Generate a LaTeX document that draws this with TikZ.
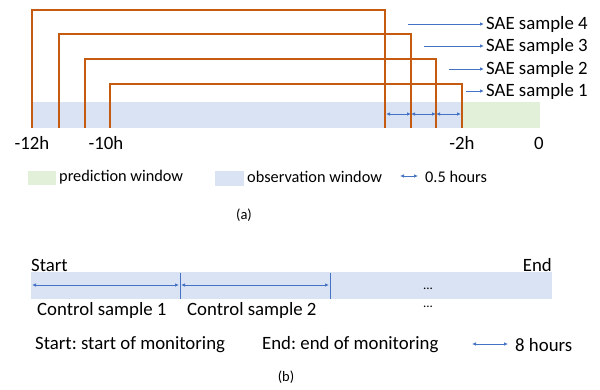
\documentclass[tikz,border=0pt]{standalone}
\usepackage{fontspec}
\setmainfont{Carlito}
\usetikzlibrary{arrows.meta}
\definecolor{orng}{HTML}{C55A11}
\definecolor{obsblue}{HTML}{DAE3F3}
\definecolor{predgreen}{HTML}{E2F0D9}
\definecolor{arrblue}{HTML}{4472C4}
\frenchspacing
\begin{document}
\begin{tikzpicture}[x=1pt,y=-1pt,
  bracket/.style={draw=orng,line width=1.1pt},
  mytip/.tip={Latex[length=4pt,width=3.5pt]},
  conn/.style={draw=arrblue,line width=0.8pt,-mytip},
  dbl/.style={draw=arrblue,line width=0.8pt,mytip-mytip},
  divline/.style={draw=arrblue,line width=0.9pt},
  lbl/.style={font=\fontsize{18.8}{20}\selectfont,inner sep=0pt},
  leg/.style={font=\fontsize{16.3}{19}\selectfont,inner sep=0pt},
  captxt/.style={font=\fontsize{14.5}{16}\selectfont,inner sep=0pt},
  dots/.style={font=\fontsize{13}{15}\selectfont,inner sep=0pt,anchor=base}
]
\useasboundingbox (0,0) rectangle (600,389);
% ---------- (a) ----------
\fill[obsblue] (32,102) rectangle (462,128);
\fill[predgreen] (462,102) rectangle (540,128);
% brackets
\coordinate (b4l) at (32,128);  \coordinate (b4t) at (385,10);  \coordinate (b4r) at (385,128);
\coordinate (b3l) at (59,128);  \coordinate (b3t) at (411,34);  \coordinate (b3r) at (411,128);
\coordinate (b2l) at (85,128);  \coordinate (b2t) at (436,59);  \coordinate (b2r) at (436,128);
\coordinate (b1l) at (110,128); \coordinate (b1t) at (462,84);  \coordinate (b1r) at (462,128);
\draw[bracket] (b4l) |- (b4t) -- (b4r);
\draw[bracket] (b3l) |- (b3t) -- (b3r);
\draw[bracket] (b2l) |- (b2t) -- (b2r);
\draw[bracket] (b1l) |- (b1t) -- (b1r);
% half-hour arrows
\coordinate (h0) at (386,114); \coordinate (h1) at (411,114);
\coordinate (h2) at (436,114); \coordinate (h3) at (461,114);
\draw[dbl] (h0) -- (h1);
\draw[dbl] (h1) -- (h2);
\draw[dbl] (h2) -- (h3);
% SAE labels
\node[lbl,anchor=west] (s4) at (486,24) {SAE sample 4};
\node[lbl,anchor=west] (s3) at (486,46) {SAE sample 3};
\node[lbl,anchor=west] (s2) at (486,69) {SAE sample 2};
\node[lbl,anchor=west] (s1) at (486,91) {SAE sample 1};
\coordinate (a4) at (408,24); \coordinate (a3) at (424,46);
\coordinate (a2) at (449,69); \coordinate (a1) at (466,91);
\draw[conn] (a4) -- ([xshift=-2pt]s4.west);
\draw[conn] (a3) -- ([xshift=-2pt]s3.west);
\draw[conn] (a2) -- ([xshift=-2pt]s2.west);
\draw[conn] (a1) -- ([xshift=-2pt]s1.west);
% ticks
\node[lbl] (t12) at (32,143) {-12h};
\node[lbl] (t10) at (106,143) {-10h};
\node[lbl] (t2) at (462,143) {-2h};
\node[lbl] (t0) at (539,143) {0};
% legend
\fill[predgreen] (28,171) rectangle (56,185);
\node[leg,anchor=west] (lp) at (59,177) {prediction window};
\fill[obsblue] (215,171) rectangle (244,186);
\node[leg,anchor=west] (lo) at (247,177) {observation window};
\coordinate (la1) at (400,176); \coordinate (la2) at (418,176);
\draw[dbl,line width=0.7pt] (la1) -- (la2);
\node[leg,anchor=west] (lh) at (425,177) {0.5 hours};
\node[captxt] (capa) at (244,215) {(a)};
% ---------- (b) ----------
\fill[obsblue] (31,272) rectangle (552,299);
\node[lbl,anchor=west] (st) at (31,265) {Start};
\node[lbl,anchor=east] (en) at (552,265) {End};
\coordinate (v1t) at (180,273); \coordinate (v1b) at (180,299);
\coordinate (v2t) at (330,273); \coordinate (v2b) at (330,299);
\draw[divline] (v1t) -- (v1b);
\draw[divline] (v2t) -- (v2b);
\coordinate (c0) at (32,285); \coordinate (c1) at (179,285);
\coordinate (c2) at (181,285); \coordinate (c3) at (329,285);
\draw[dbl] (c0) -- (c1);
\draw[dbl] (c2) -- (c3);
\node[dots] (d1) at (428,289) {...};
\node[dots] (d2) at (428,307) {...};
\node[lbl,anchor=west] (cs1) at (37,310) {Control sample 1};
\node[lbl,anchor=west] (cs2) at (187,310) {Control sample 2};
\node[lbl,anchor=west] (ls) at (35,345) {Start: start of monitoring};
\node[lbl,anchor=west] (le) at (262,345) {End: end of monitoring};
\coordinate (e1) at (472,344); \coordinate (e2) at (508,344);
\draw[dbl,line width=0.7pt] (e1) -- (e2);
\node[lbl,anchor=west] (l8) at (515,345) {8 hours};
\node[captxt] (capb) at (286,377) {(b)};
\end{tikzpicture}
\end{document}
